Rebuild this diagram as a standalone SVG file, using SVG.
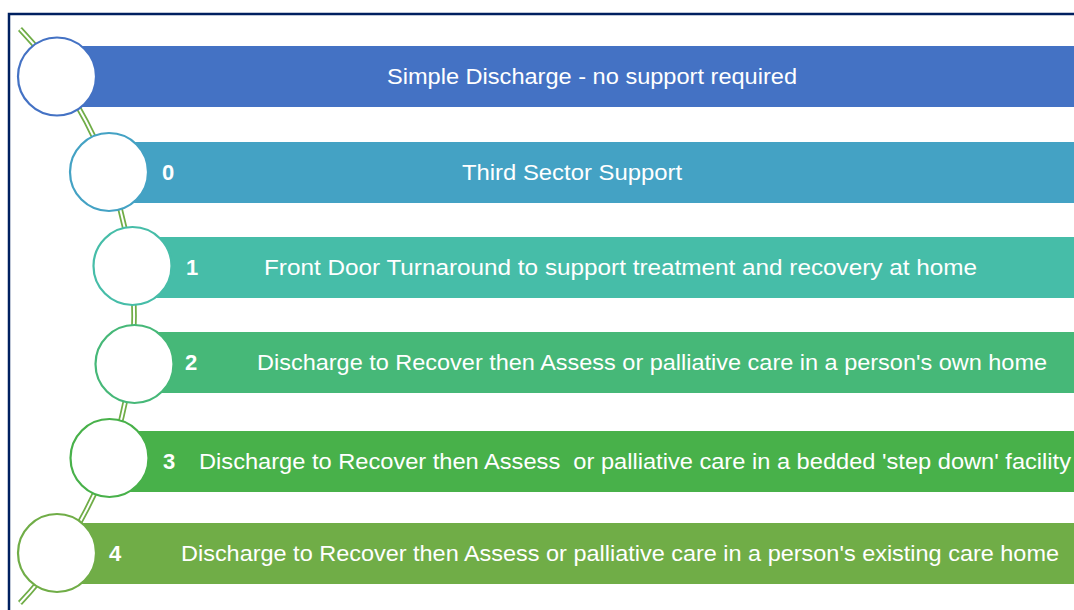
<svg xmlns="http://www.w3.org/2000/svg" width="1074" height="610" viewBox="0 0 1074 610">
<style>
.bar{stroke:none}
.node circle{fill:#fff;stroke-width:2.2}
text{font-family:"Liberation Sans",Arial,sans-serif;font-size:22px;fill:#fff}
.num{font-weight:bold}
</style>
<rect x="0" y="0" width="1074" height="610" fill="#fff"/>
<path d="M9 610 V14 H1074" fill="none" stroke="#002060" stroke-width="2.5"/>
<g id="bars">
<rect class="bar" x="57" y="46" width="1030" height="61" fill="#4472C4"/>
<rect class="bar" x="109" y="142" width="980" height="61" fill="#44A2C4"/>
<rect class="bar" x="132" y="237" width="960" height="61" fill="#46BDA8"/>
<rect class="bar" x="134" y="332" width="960" height="61" fill="#46B878"/>
<rect class="bar" x="109" y="431" width="980" height="61" fill="#48B14A"/>
<rect class="bar" x="57" y="523" width="1030" height="61" fill="#70AD47"/>
</g>
<g id="connectors">
<path d="M20 29 A418 418 0 0 1 20 603" fill="none" stroke="#70AD47" stroke-width="5.5"/>
<path d="M20 29 A418 418 0 0 1 20 603" fill="none" stroke="#fff" stroke-width="2"/>
</g>
<g id="node1" class="node">
<circle cx="57" cy="76.5" r="39" stroke="#4472C4"/>
<text x="592" y="84" text-anchor="middle" textLength="410" lengthAdjust="spacingAndGlyphs">Simple Discharge - no support required</text>
</g>
<g id="node2" class="node">
<circle cx="109" cy="172" r="39" stroke="#44A2C4"/>
<text class="num" x="162" y="180">0</text>
<text x="462" y="180" textLength="220" lengthAdjust="spacingAndGlyphs">Third Sector Support</text>
</g>
<g id="node3" class="node">
<circle cx="132.5" cy="266" r="39" stroke="#46BDA8"/>
<text class="num" x="186" y="275">1</text>
<text x="264" y="275" textLength="713" lengthAdjust="spacingAndGlyphs">Front Door Turnaround to support treatment and recovery at home</text>
</g>
<g id="node4" class="node">
<circle cx="134.5" cy="364" r="39" stroke="#46B878"/>
<text class="num" x="185" y="370">2</text>
<text x="257" y="370" textLength="790" lengthAdjust="spacingAndGlyphs">Discharge to Recover then Assess or palliative care in a person's own home</text>
</g>
<g id="node5" class="node">
<circle cx="109.5" cy="458" r="39" stroke="#48B14A"/>
<text class="num" x="163" y="469">3</text>
<text x="199" y="469" textLength="872" lengthAdjust="spacingAndGlyphs" xml:space="preserve">Discharge to Recover then Assess  or palliative care in a bedded 'step down' facility</text>
</g>
<g id="node6" class="node">
<circle cx="57" cy="553" r="39" stroke="#70AD47"/>
<text class="num" x="109" y="561">4</text>
<text x="181" y="561" textLength="878" lengthAdjust="spacingAndGlyphs">Discharge to Recover then Assess or palliative care in a person's existing care home</text>
</g>
</svg>
